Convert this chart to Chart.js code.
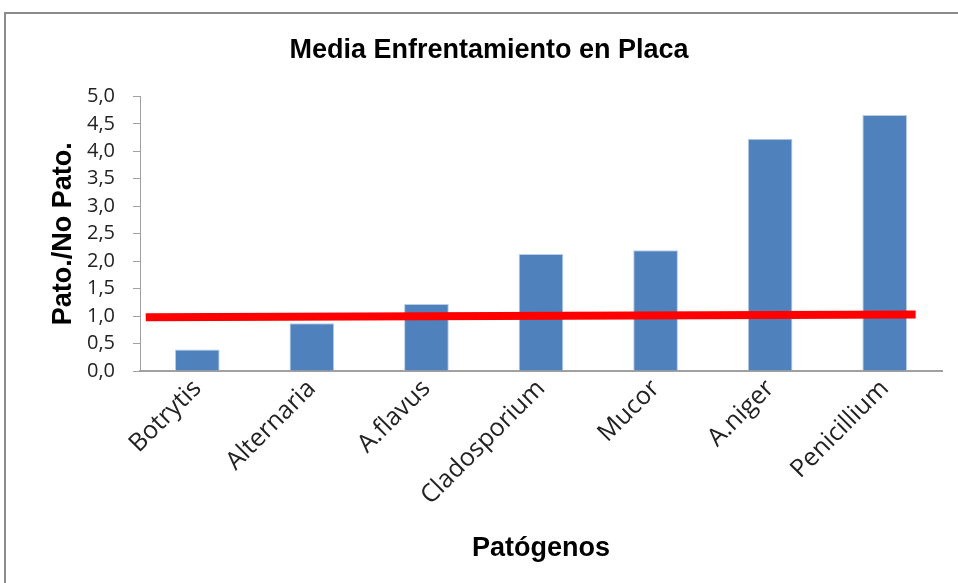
<!DOCTYPE html>
<html>
<head>
<meta charset="utf-8">
<script src="https://cdn.jsdelivr.net/npm/chart.js@4.4.0/dist/chart.umd.min.js"></script>
<style>
  html, body { margin: 0; padding: 0; background: #fff; overflow: hidden; }
  .marco { position: absolute; left: 4px; top: 12px; width: 1000px; height: 620px; border: 2px solid #8c8c8c; }
  .caja { position: absolute; left: 0; top: 0; width: 958px; height: 583px; }
</style>
</head>
<body>
<div class="marco"></div>
<div class="caja"><canvas id="grafico" width="958" height="583"></canvas></div>
<script>
const patogenos = ['Botrytis', 'Alternaria', 'A.flavus', 'Cladosporium', 'Mucor', 'A.niger', 'Penicillium'];
const medias = [0.39, 0.87, 1.22, 2.13, 2.2, 4.23, 4.66];
// linea roja de referencia (en unidades de categoria: 0 = borde izquierdo del eje)
const refX = [0.05, 6.77];
const refY = [0.98, 1.03];
const ticksY = [0, 0.5, 1, 1.5, 2, 2.5, 3, 3.5, 4, 4.5, 5];

const canvas = document.querySelector('#grafico');
const fmt = (v) => v.toFixed(1).replace('.', ',');

const config = {
    type: 'bar',
    data: {
        labels: patogenos,
        datasets: [{
            label: 'Media',
            data: medias,
            backgroundColor: '#4F81BD',
            borderColor: '#B9CDE5',
            borderWidth: 1,
            grouped: false,
            barPercentage: 0.39,
            categoryPercentage: 1,
            order: 2
        }, {
            type: 'line',
            label: 'Referencia',
            data: refX.map((x, i) => ({ x: x, y: refY[i] })),
            xAxisID: 'xRef',
            borderColor: '#FF0000',
            borderWidth: 8,
            borderCapStyle: 'butt',
            pointRadius: 0,
            order: 1
        }]
    },
    options: {
        responsive: false,
        maintainAspectRatio: false,
        animation: false,
        devicePixelRatio: 1,
        layout: { padding: { left: 20, right: 0, top: 0, bottom: 18 } },
        plugins: {
            legend: { display: false },
            tooltip: { enabled: false },
            title: {
                display: true,
                text: 'Media Enfrentamiento en Placa',
                color: '#000',
                font: { family: 'Liberation Sans', size: 27, weight: 'bold' },
                padding: { top: 34, bottom: 30 }
            }
        },
        scales: {
            x: {
                afterFit: (s) => { s.height = 583 - 371 - 18; },
                grid: { display: false, drawTicks: false },
                border: { color: '#a0a0a0', width: 2 },
                ticks: {
                    color: '#222',
                    font: { family: 'Open Sans', size: 25 },
                    minRotation: 45, maxRotation: 45,
                    autoSkip: false,
                    padding: 3
                },
                title: {
                    display: true,
                    text: 'Patógenos',
                    color: '#000',
                    font: { family: 'Liberation Sans', size: 27, weight: 'bold' },
                    padding: { top: 0, bottom: 0 }
                }
            },
            xRef: {
                type: 'linear',
                display: false,
                offset: false,
                min: 0,
                max: patogenos.length
            },
            y: {
                min: 0,
                max: 5,
                afterFit: (s) => { s.width = 120; },
                afterBuildTicks: (axis) => { axis.ticks = ticksY.map(v => ({ value: v })); },
                grid: { display: true, drawOnChartArea: false, drawTicks: true, tickLength: 7, color: '#a0a0a0' },
                border: { color: '#a0a0a0', width: 1 },
                ticks: {
                    color: '#222',
                    font: { family: 'Open Sans', size: 20 },
                    autoSkip: false,
                    padding: 18,
                    callback: (v) => fmt(v)
                },
                title: {
                    display: true,
                    text: 'Pato./No Pato.',
                    color: '#000',
                    font: { family: 'Liberation Sans', size: 27, weight: 'bold' },
                    padding: { top: 27, bottom: 0 }
                }
            },
            // margen derecho vacio
            yDer: {
                position: 'right',
                afterFit: (s) => { s.width = 16; },
                grid: { display: false },
                border: { display: false },
                ticks: { display: false }
            }
        }
    }
};

const myChart = new Chart(canvas, config);
</script>
</body>
</html>
